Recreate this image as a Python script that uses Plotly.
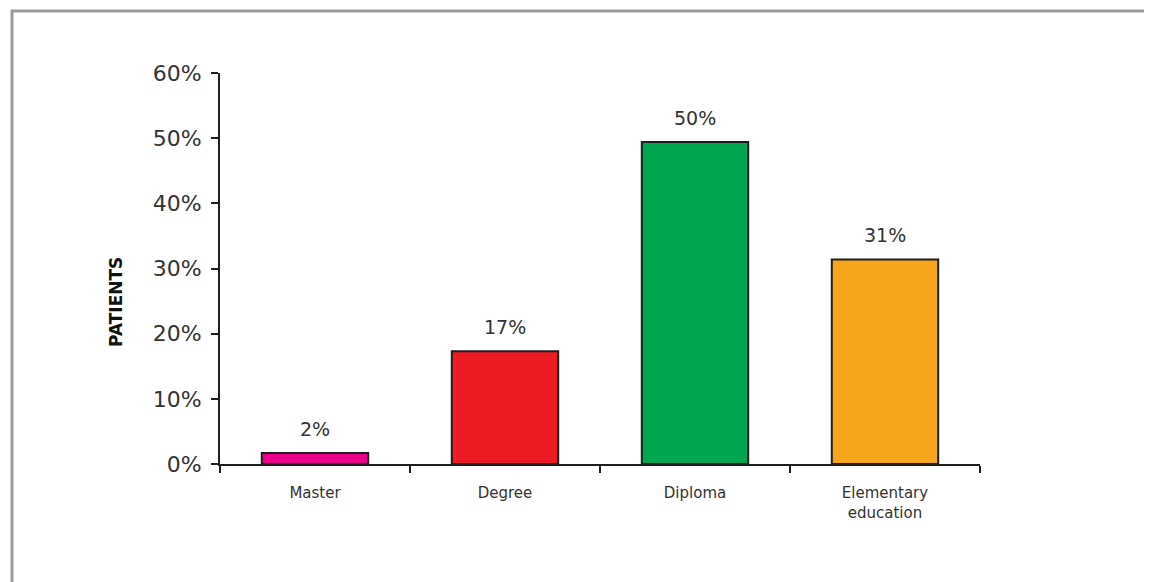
import plotly.graph_objects as go

categories = ["Master", "Degree", "Diploma", "Elementary<br>education"]
values = [1.7, 17.3, 49.4, 31.4]
labels = ["2%", "17%", "50%", "31%"]
colors = ["#EC008C", "#ED1C24", "#00A650", "#F7A51C"]
y_ticks = [0, 10, 20, 30, 40, 50, 60]
y_tick_labels = [f"{v}%" for v in y_ticks]

# page body has an 8px margin: figure sized/positioned to compensate
W, H = 1144, 574
L, R, T, B = 212, 172, 65, 118
pw = W - L - R
ph = H - T - B

fig = go.Figure()
fig.add_trace(go.Bar(
    x=categories, y=values,
    marker=dict(color=colors, line=dict(color="#1f1f1f", width=2)),
    width=0.56, cliponaxis=False, hoverinfo="x+y",
))

annotations = [
    dict(x=c, y=v, text=t, xref="x", yref="y", showarrow=False,
         yanchor="middle", yshift=24,
         font=dict(family="DejaVu Sans", size=19, color="#333333"))
    for c, v, t in zip(categories, values, labels)
]
annotations.append(dict(
    text="<b>PATIENTS</b>", xref="paper", yref="paper",
    x=(108 - L) / pw, y=(456 - 294) / ph, textangle=-90,
    showarrow=False, font=dict(family="DejaVu Sans", size=17, color="#111111"),
    xanchor="center", yanchor="middle",
))

fig.update_layout(
    width=W, height=H,
    margin=dict(l=L, r=R, t=T, b=B),
    paper_bgcolor="white", plot_bgcolor="white",
    showlegend=False,
    font=dict(family="DejaVu Sans", color="#222222"),
    xaxis=dict(
        showline=True, linecolor="#1f1f1f", linewidth=2,
        ticks="outside", ticklen=7, tickwidth=2, tickcolor="#1f1f1f",
        tickson="boundaries", showgrid=False,
        ticklabelstandoff=14,
        tickfont=dict(family="DejaVu Sans", size=15, color="#333333"),
    ),
    yaxis=dict(
        range=[0, 60], tickvals=y_ticks, ticktext=y_tick_labels,
        showline=True, linecolor="#1f1f1f", linewidth=2,
        ticks="outside", ticklen=7, tickwidth=2, tickcolor="#1f1f1f",
        showgrid=False, zeroline=False,
        ticklabelstandoff=5,
        tickfont=dict(family="DejaVu Sans", size=22, color="#333333"),
    ),
    annotations=annotations,
    shapes=[dict(
        type="rect", xref="paper", yref="paper",
        x0=(4 - L) / pw, x1=(W + 20 - L) / pw,
        y0=(H - B - (H + 20)) / ph, y1=(H - B - 3) / ph,
        line=dict(color="#9a9a9a", width=3), layer="below",
    )],
)

fig.write_html("out.html")
